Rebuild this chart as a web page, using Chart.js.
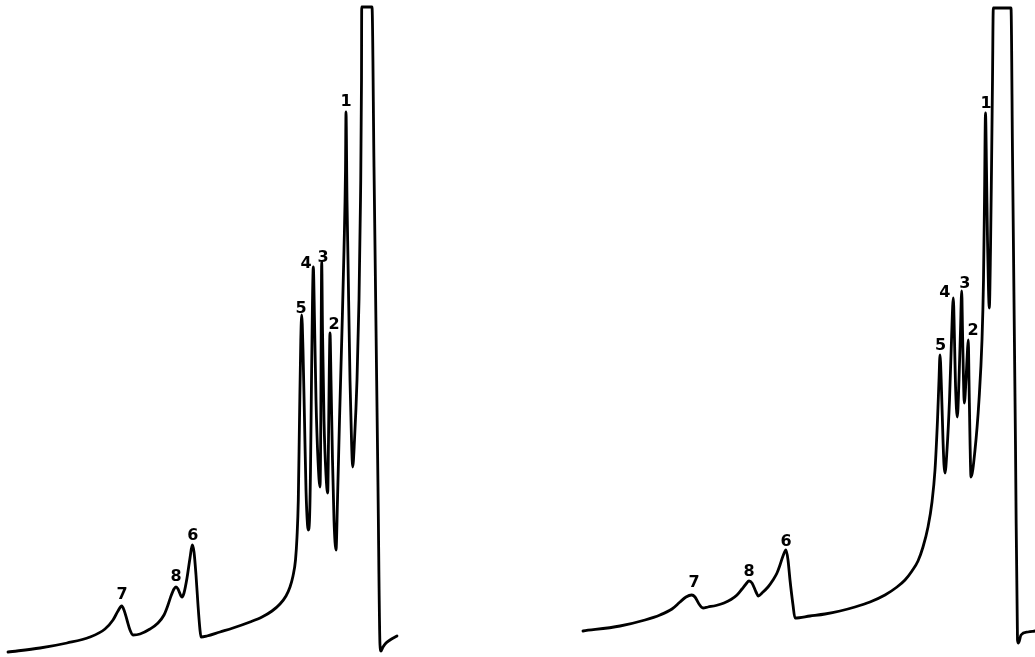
<!DOCTYPE html>
<html>
<head>
<meta charset="utf-8">
<title>Chromatograms</title>
<script src="https://cdn.jsdelivr.net/npm/chart.js@4"></script>
<style>
  html, body { margin: 0; padding: 0; background: #ffffff; }
  #wrap { position: relative; width: 1035px; height: 657px; overflow: hidden; }
  .panel { position: absolute; top: 0; }
</style>
</head>
<body>
<div id="wrap">
  <div class="panel" style="left:0"><canvas id="left" width="518" height="657"></canvas></div>
  <div class="panel" style="left:518px"><canvas id="right" width="517" height="657"></canvas></div>
</div>
<script>
// Trace A (left recorder strip): chart position and detector deflection
const leftTime = [8, 40, 67, 90, 105, 113, 118, 121.7, 124, 127, 130, 133, 140, 150, 158, 164, 168, 171, 174, 176, 178, 181, 182, 184, 187, 190, 192.3, 194, 196, 198, 200, 201, 207, 220, 233, 250, 262, 272, 280, 286, 290, 293, 295.5, 297, 298.3, 299.5, 300.8, 301.7, 303, 304.5, 306, 307.5, 308.3, 309.5, 310.5, 311.5, 312.5, 313.3, 314.5, 316, 318, 320, 320.8, 321.2, 321.7, 322.5, 324, 326, 327.7, 328.5, 329.3, 330, 331, 332.5, 334, 336, 337.5, 339.5, 342, 344, 345.5, 346, 347, 348, 350, 351.5, 352.7, 354.5, 357, 359, 360.5, 361.5, 361.7, 372, 374, 376, 378, 380, 381, 383, 386, 390, 397];
const leftSignal = [5, 9, 14, 20, 28, 37, 46, 51, 47, 37, 27, 22, 23, 28, 34, 42, 52, 61, 68, 70, 68, 61, 60, 64, 79, 99, 112, 105, 82, 52, 27, 20, 21, 25, 29, 35, 40, 46, 53, 61, 70, 81, 97, 120, 157, 237, 317, 342, 307, 237, 167, 132, 127, 137, 187, 277, 357, 390, 337, 257, 197, 170, 237, 327, 395, 327, 237, 182, 164, 217, 287, 324, 277, 197, 137, 107, 157, 237, 327, 407, 487, 545, 457, 397, 277, 217, 190, 217, 277, 357, 457, 577, 650, 650, 490, 330, 170, 12, 6, 10, 14, 17, 21];

// Trace B (right recorder strip)
const rightTime = [583, 620, 645, 660, 672, 680, 686, 691.7, 695, 699, 703, 708, 716, 724, 731, 737, 742, 746, 749, 752, 756, 758.3, 762, 768, 773, 777, 780, 783, 786, 788, 790, 793, 795, 810, 825, 840, 855, 870, 885, 897, 905, 912, 918, 923, 928, 932, 935, 937.5, 939, 940, 941.5, 943, 944, 945, 947, 949.5, 951.5, 953.3, 954.5, 955.5, 957.3, 959, 960.5, 961.7, 962.5, 963.5, 964.3, 966, 967.5, 968.3, 969, 970, 971, 975, 979, 982, 983.5, 984.5, 985.5, 986.5, 987.5, 988.5, 989.3, 990.5, 991.5, 992.5, 993.3, 1011, 1012.5, 1014, 1015.5, 1017.5, 1018.5, 1021, 1028, 1035];
const rightSignal = [26, 31, 37, 42, 48, 55, 60, 62, 60, 53, 49, 50, 51.5, 54, 57.5, 62, 68, 73, 76, 74, 65, 61, 64, 70, 77, 84, 92, 101, 107, 97, 77, 52, 39, 41, 43, 46, 50, 55, 62, 70, 77, 86, 96, 110, 130, 155, 187, 237, 277, 302, 267, 217, 192, 184, 207, 257, 317, 359, 317, 272, 240, 277, 327, 366, 327, 277, 254, 277, 307, 317, 277, 217, 180, 207, 257, 317, 377, 457, 544, 487, 417, 367, 349, 407, 487, 577, 649, 649, 503, 357, 211, 17, 14, 22, 25, 26];

// Peak numbers and where they are lettered
const peakNumbers = ['7', '8', '6', '5', '4', '3', '2', '1'];
const leftLabelTime = [122, 176, 192.7, 301, 306, 323, 334, 346];
const leftLabelSignal = [64, 82, 123, 350, 395, 401, 334.5, 557];
const rightLabelTime = [694, 749, 786, 940.5, 944.7, 964.7, 973, 986];
const rightLabelSignal = [76, 87, 117, 313, 366, 375, 328, 555];

function zip(xs, ys) { return xs.map((x, i) => ({ x: x, y: ys[i] })); }

const peakLabelPlugin = {
  id: 'peakLabels',
  afterDatasetsDraw(chart, args, opts) {
    const ctx = chart.ctx;
    const xs = chart.scales.x, ys = chart.scales.y;
    ctx.save();
    ctx.fillStyle = '#000';
    ctx.font = 'bold 16px "DejaVu Sans", sans-serif';
    ctx.textAlign = 'center';
    ctx.textBaseline = 'alphabetic';
    opts.names.forEach((t, i) => {
      const px = xs.getPixelForValue(opts.xs[i]);
      const py = ys.getPixelForValue(opts.ys[i]);
      ctx.fillText(t, px, py + 6);
    });
    ctx.restore();
  }
};

function makeTrace(id, times, signals, xMin, xMax, lx, ly) {
  return new Chart(document.getElementById(id), {
    type: 'line',
    data: {
      datasets: [{
        data: zip(times, signals),
        borderColor: '#000000',
        borderWidth: 2.8,
        pointRadius: 0,
        fill: false,
        cubicInterpolationMode: 'monotone',
        borderCapStyle: 'round',
        borderJoinStyle: 'round'
      }]
    },
    options: {
      responsive: false,
      animation: false,
      maintainAspectRatio: false,
      layout: { padding: 0 },
      parsing: false,
      scales: {
        x: { type: 'linear', min: xMin, max: xMax, display: false },
        y: { type: 'linear', min: 0, max: 657, display: false }
      },
      plugins: {
        legend: { display: false },
        tooltip: { enabled: false },
        peakLabels: { names: peakNumbers, xs: lx, ys: ly }
      }
    },
    plugins: [peakLabelPlugin]
  });
}

makeTrace('left', leftTime, leftSignal, 0, 518, leftLabelTime, leftLabelSignal);
makeTrace('right', rightTime, rightSignal, 518, 1035, rightLabelTime, rightLabelSignal);
</script>
</body>
</html>
